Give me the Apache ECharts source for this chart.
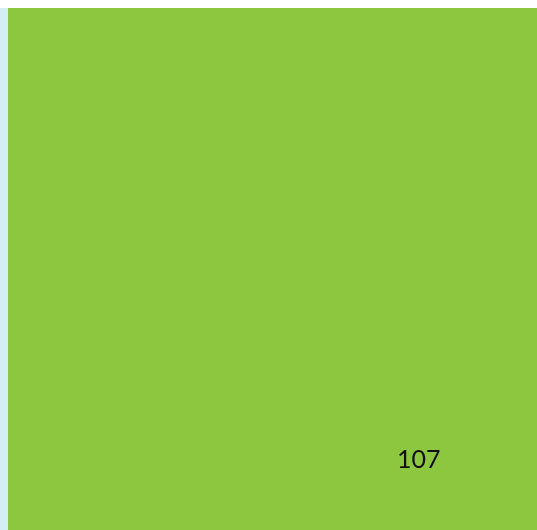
<!DOCTYPE html>
<html>
<head>
<meta charset="utf-8">
<script src="https://cdn.jsdelivr.net/npm/echarts@6/dist/echarts.min.js"></script>
<style>
  html, body { margin: 0; padding: 0; background: #fff; }
  #chart { width: 537px; height: 530px; }
</style>
</head>
<body>
<div id="chart"></div>
<script>
// treemap nodes
const names = ["other", "main"];
const values = [1.62, 107];
const palette = ["#d4eef2", "#8dc63f"];

const chart = echarts.init(document.getElementById("chart"));

const nodes = names.map((n, i) => ({
  name: n,
  value: values[i],
  itemStyle: { color: palette[i] },
  label: { show: i === 1 }
}));

chart.setOption({
  animation: false,
  series: [
    {
      type: "treemap",
      left: 0,
      top: 8,
      width: 537,
      height: 560, // runs past the bottom edge, so the layout splits into columns
      sort: false,
      roam: false,
      nodeClick: false,
      breadcrumb: { show: false },
      itemStyle: { borderWidth: 0, gapWidth: 0 },
      label: {
        position: [384, 434],
        formatter: "{c}",
        color: "#111",
        fontFamily: "Lato",
        fontSize: 25
      },
      data: nodes
    }
  ]
});
</script>
</body>
</html>
